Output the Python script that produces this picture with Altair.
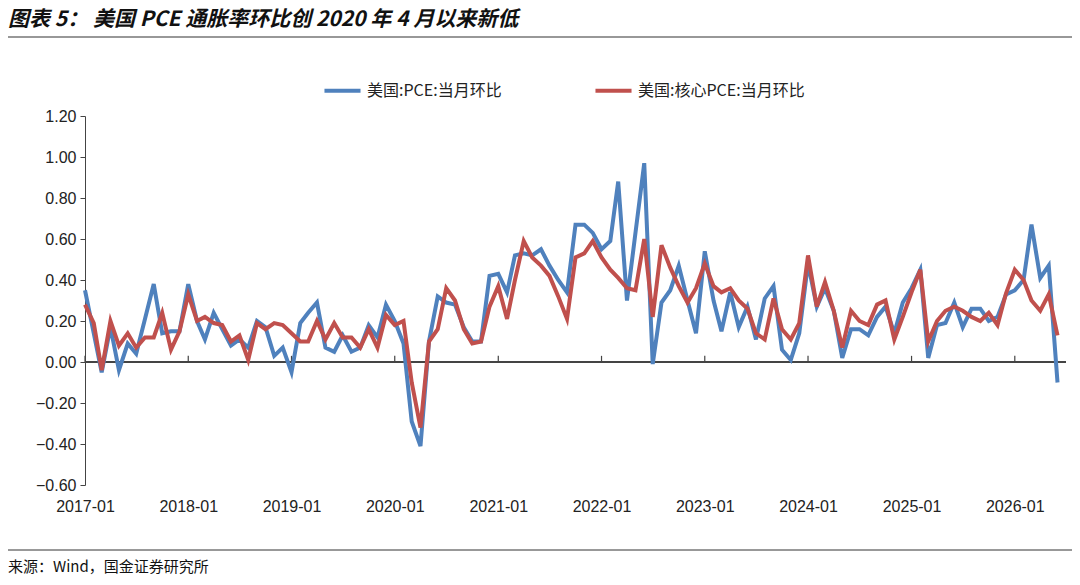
import pandas as pd
import altair as alt

# monthly values 2017-01 .. 2026-06
pce = [0.35, 0.14, -0.05, 0.17, -0.04, 0.09, 0.04, 0.21, 0.38, 0.14, 0.15, 0.15,
       0.38, 0.20, 0.11, 0.24, 0.16, 0.08, 0.11, 0.07, 0.20, 0.17, 0.03, 0.07,
       -0.05, 0.19, 0.24, 0.29, 0.07, 0.05, 0.13, 0.05, 0.07, 0.18, 0.12, 0.28,
       0.20, 0.09, -0.29, -0.41, 0.10, 0.32, 0.29, 0.28, 0.17, 0.10, 0.10, 0.42,
       0.43, 0.34, 0.52, 0.53, 0.52, 0.55, 0.47, 0.40, 0.34, 0.67, 0.67, 0.63,
       0.55, 0.59, 0.88, 0.30, 0.63, 0.97, -0.01, 0.29, 0.35, 0.47, 0.30, 0.14,
       0.54, 0.30, 0.15, 0.34, 0.17, 0.27, 0.11, 0.31, 0.37, 0.06, 0.01, 0.14,
       0.48, 0.27, 0.36, 0.25, 0.02, 0.16, 0.16, 0.13, 0.22, 0.27, 0.14, 0.29,
       0.36, 0.45, 0.02, 0.18, 0.19, 0.29, 0.17, 0.26, 0.26, 0.20, 0.22, 0.33,
       0.35, 0.40, 0.67, 0.41, 0.47, -0.10]
core = [0.28, 0.19, -0.04, 0.20, 0.08, 0.14, 0.07, 0.12, 0.12, 0.24, 0.06, 0.15,
        0.33, 0.20, 0.22, 0.19, 0.18, 0.10, 0.13, 0.01, 0.19, 0.16, 0.19, 0.18,
        0.14, 0.10, 0.10, 0.20, 0.11, 0.19, 0.12, 0.12, 0.07, 0.16, 0.07, 0.23,
        0.18, 0.20, -0.10, -0.32, 0.10, 0.16, 0.36, 0.30, 0.16, 0.09, 0.10, 0.27,
        0.37, 0.21, 0.40, 0.59, 0.51, 0.47, 0.42, 0.32, 0.21, 0.51, 0.53, 0.59,
        0.51, 0.45, 0.41, 0.36, 0.35, 0.60, 0.22, 0.57, 0.46, 0.37, 0.29, 0.36,
        0.48, 0.37, 0.34, 0.36, 0.30, 0.26, 0.14, 0.11, 0.31, 0.16, 0.11, 0.19,
        0.52, 0.27, 0.39, 0.25, 0.07, 0.25, 0.20, 0.18, 0.28, 0.30, 0.11, 0.22,
        0.34, 0.45, 0.10, 0.20, 0.25, 0.27, 0.25, 0.22, 0.20, 0.24, 0.18, 0.335,
        0.45, 0.40, 0.30, 0.25, 0.33, 0.13]
s1 = "美国:PCE:当月环比"
s2 = "美国:核心PCE:当月环比"
years = [f"{y}-01-01" for y in range(2017, 2027)]

dates = pd.date_range("2017-01-01", periods=len(pce), freq="MS")
df = pd.concat([pd.DataFrame({"date": dates, "v": pce, "s": s1}),
                pd.DataFrame({"date": dates, "v": core, "s": s2})])
ticks = pd.DataFrame({"date": pd.to_datetime(years)})

W, H = 981, 369
font = "Liberation Sans"
xs = alt.Scale(domain=["2017-01-01", "2026-07-01"])
ys = alt.Scale(domain=[-0.6, 1.2])

lines = alt.Chart(df).mark_line(strokeWidth=4).encode(
    x=alt.X("date:T", scale=xs, title=None,
            axis=alt.Axis(values=years, format="%Y-%m", domain=False, ticks=False,
                          labelFlush=False, labelOverlap=False, labelBound=False,
                          labelFontSize=16, labelPadding=13, labelColor="#222", grid=False)),
    y=alt.Y("v:Q", scale=ys, title=None,
            axis=alt.Axis(values=[round(-0.6 + 0.2 * i, 1) for i in range(10)], format=".2f",
                          labelFontSize=16, grid=False, domainColor="#444", tickColor="#444",
                          tickSize=5, labelColor="#222", labelPadding=4)),
    color=alt.Color("s:N", scale=alt.Scale(domain=[s1, s2], range=["#4F81BD", "#C0504D"]),
                    title=None,
                    legend=alt.Legend(orient="none", legendX=237, legendY=-46, direction="horizontal",
                                      symbolType="stroke", symbolSize=1300, symbolStrokeWidth=4,
                                      labelFontSize=16, labelFont="Noto Sans CJK SC", labelLimit=400,
                                      columnPadding=85, labelColor="#222")),
)

zero = alt.Chart(ticks).mark_rule(color="#444", strokeWidth=1.2).encode(
    x=alt.value(0), x2=alt.value(W), y=alt.Y("z:Q", scale=ys)
).transform_calculate(z="0")

tk = alt.Chart(ticks).mark_rule(color="#444", strokeWidth=1.2).encode(
    x=alt.X("date:T", scale=xs), y=alt.Y("a:Q", scale=ys), y2="b:Q"
).transform_calculate(a="0", b="0.03")

def txt(t, x, y, size, weight="normal", style="normal"):
    return alt.Chart(pd.DataFrame({"t": [t]})).mark_text(
        align="left", baseline="middle", fontSize=size, font="Noto Sans CJK SC",
        fontWeight=weight, fontStyle=style, color="#111").encode(
        text="t:N", x=alt.value(x), y=alt.value(y))

title = txt("图表 5：  美国 PCE 通胀率环比创 2020 年 4 月以来新低", -77, -96, 21, "bold", "italic")
source = txt("来源：Wind，国金证券研究所", -77, 451, 15)

def hline(y, w):
    return alt.Chart(pd.DataFrame({"a": [0]})).mark_rule(color="#333", strokeWidth=w).encode(
        x=alt.value(-77), x2=alt.value(W + 6), y=alt.value(y))

chart = alt.layer(hline(-79, 1.2), hline(434, 1), zero, tk, lines, title, source).properties(
    width=W, height=H, autosize="none",
    padding={"left": 77, "top": 108, "right": 6, "bottom": 92},
).configure_view(stroke=None).configure_axis(labelFont=font)

chart.save("out.html", embed_options={"renderer": "svg", "actions": False})
